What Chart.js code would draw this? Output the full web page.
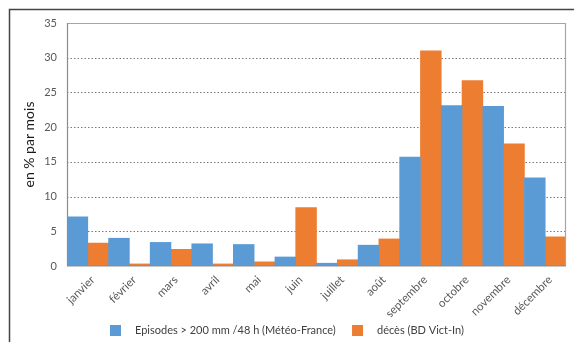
<!DOCTYPE html>
<html><head><meta charset="utf-8">
<script src="https://cdn.jsdelivr.net/npm/chart.js@4/dist/chart.umd.min.js"></script>
<style>html,body{margin:0;padding:0;background:#fff;}canvas{display:block;}</style>
</head><body>
<canvas id="c" width="574" height="342"></canvas>
<script>
const months = ['janvier','février','mars','avril','mai','juin','juillet','août','septembre','octobre','novembre','décembre'];
const episodes = [7.1, 4.0, 3.4, 3.2, 3.1, 1.3, 0.4, 3.0, 15.7, 23.1, 23.0, 12.7];
const deces = [3.3, 0.3, 2.4, 0.3, 0.6, 8.4, 0.9, 3.9, 31.0, 26.7, 17.6, 4.2];
const seriesNames = ['Episodes > 200 mm /48 h (Météo-France)', 'décès (BD Vict-In)'];
const yTitle = 'en % par mois';
const gridValues = [5, 10, 15, 20, 25, 30];

const FONT = 'Lato, "Open Sans", sans-serif';
const framePlugin = {
  id: 'frame',
  beforeDraw(chart) {
    const ctx = chart.ctx;
    ctx.save();
    ctx.fillStyle = '#fff';
    ctx.fillRect(0, 0, chart.width, chart.height);
    ctx.strokeStyle = '#444';
    ctx.lineWidth = 1.5;
    ctx.beginPath();
    ctx.moveTo(9.5, chart.height);
    ctx.lineTo(9.5, 9.5);
    ctx.lineTo(chart.width, 9.5);
    ctx.stroke();
    ctx.restore();
  },
  beforeDatasetsDraw(chart) {
    const a = chart.chartArea, ctx = chart.ctx, y = chart.scales.y;
    ctx.save();
    ctx.strokeStyle = '#7a7a7a';
    ctx.lineWidth = 1;
    ctx.setLineDash([1.5, 2]);
    gridValues.forEach(v => {
      const py = Math.round(y.getPixelForValue(v)) + 0.5;
      ctx.beginPath();
      ctx.moveTo(a.left, py);
      ctx.lineTo(a.right, py);
      ctx.stroke();
    });
    ctx.restore();
  },
  afterDatasetsDraw(chart) {
    const a = chart.chartArea, ctx = chart.ctx;
    ctx.save();
    ctx.strokeStyle = '#a6a6a6';
    ctx.lineWidth = 1.2;
    ctx.beginPath();
    ctx.moveTo(a.left, a.top + 0.5);
    ctx.lineTo(a.right - 0.5, a.top + 0.5);
    ctx.lineTo(a.right - 0.5, a.bottom);
    ctx.stroke();
    ctx.strokeStyle = '#8c8c8c';
    ctx.beginPath();
    ctx.moveTo(a.left + 0.5, a.top);
    ctx.lineTo(a.left + 0.5, a.bottom);
    ctx.lineTo(a.right, a.bottom);
    ctx.stroke();
    ctx.restore();
  }
};

new Chart(document.getElementById('c'), {
  type: 'bar',
  data: {
    labels: months,
    datasets: [
      { label: seriesNames[0], data: episodes, backgroundColor: '#5B9BD5', borderWidth: 0 },
      { label: seriesNames[1], data: deces, backgroundColor: '#ED7D31', borderWidth: 0 }
    ]
  },
  options: {
    responsive: false,
    devicePixelRatio: 1,
    animation: false,
    layout: { padding: { left: 8, right: 8, top: 23, bottom: -4 } },
    datasets: { bar: { barPercentage: 1.0, categoryPercentage: 1.0 } },
    plugins: {
      tooltip: { enabled: false },
      legend: {
        position: 'bottom',
        labels: {
          font: { family: FONT, size: 11 },
          color: '#404040',
          boxWidth: 11, boxHeight: 11,
          padding: 8,
          generateLabels(chart) {
            return chart.data.datasets.map((d, i) => ({
              text: '   ' + d.label + (i === 0 ? '\u2003' : ''),
              fillStyle: d.backgroundColor,
              strokeStyle: d.backgroundColor,
              lineWidth: 0,
              datasetIndex: i,
              fontColor: '#404040'
            }));
          }
        }
      }
    },
    scales: {
      x: {
        grid: { display: false, drawTicks: false },
        border: { display: false },
        ticks: { color: '#595959', font: { family: FONT, size: 11.5 }, minRotation: 45, maxRotation: 45, padding: 7, labelOffset: 5 },
        afterFit(s) { s.height = 51; }
      },
      y: {
        min: 0, max: 35,
        ticks: { stepSize: 5, color: '#595959', font: { family: FONT, size: 11 }, padding: 10 },
        grid: { display: false, drawTicks: false },
        border: { display: false },
        title: { display: true, text: yTitle, color: '#1a1a1a', font: { family: FONT, size: 14 }, padding: { top: 13, bottom: 0 } },
        afterFit(s) { s.width = 59; }
      }
    }
  },
  plugins: [framePlugin]
});
</script>
</body></html>
